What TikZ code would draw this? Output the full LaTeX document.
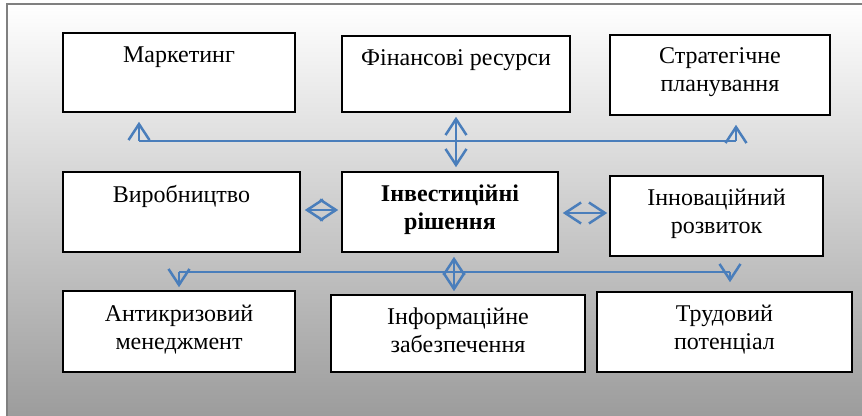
\documentclass[tikz,border=0pt]{standalone}
\usepackage{fontspec}
\setmainfont{Liberation Serif}
\usetikzlibrary{arrows.meta,calc}
\definecolor{linkblue}{RGB}{74,126,187}
\definecolor{panelgray}{RGB}{156,156,156}
\definecolor{framegray}{RGB}{128,128,128}
\begin{document}
\begin{tikzpicture}[x=1pt,y=1pt,
  box/.style={draw=black,line width=1.6pt,fill=white,inner sep=0pt},
  txt/.style={anchor=north,inner sep=0pt,align=center,
    font=\fontsize{24}{28}\selectfont},
  link/.style={draw=linkblue,line width=1.5pt},
  vtip/.tip={Straight Barb[length=16pt,width=21pt,line width=2.5pt]}]
\useasboundingbox (0,0) rectangle (862,415);
% panel
\fill[white] (0,0) rectangle (862,415);
\shade[top color=white,bottom color=panelgray] (7,-2) rectangle (866,411);
\draw[framegray,line width=2pt] (7,-2) -- (7,411) -- (866,411);

% boxes
\node[box,minimum width=232pt,minimum height=79pt] (mark)  at (179,342.5) {};
\node[box,minimum width=228pt,minimum height=76pt] (fin)   at (456,341) {};
\node[box,minimum width=220pt,minimum height=80pt] (strat) at (720,340) {};
\node[box,minimum width=237pt,minimum height=80pt] (vyr)   at (181.5,203) {};
\node[box,minimum width=216pt,minimum height=80pt] (inv)   at (450,203) {};
\node[box,minimum width=213pt,minimum height=80pt] (inn)   at (716.5,199) {};
\node[box,minimum width=232pt,minimum height=81pt] (anti)  at (179,83.5) {};
\node[box,minimum width=254pt,minimum height=77pt] (info)  at (458,81.5) {};
\node[box,minimum width=255pt,minimum height=80pt] (trud)  at (724.5,83) {};

% texts
\node[txt] (mark-t)  at ([yshift=-12pt]mark.north)  {\rule{0pt}{18pt}Маркетинг};
\node[txt] (fin-t)   at ([yshift=-12pt]fin.north)   {\rule{0pt}{18pt}Фінансові ресурси};
\node[txt] (strat-t) at ([yshift=-11pt]strat.north) {\rule{0pt}{18pt}Стратегічне\\планування};
\node[txt] (vyr-t)   at ([yshift=-13pt]vyr.north)   {\rule{0pt}{18pt}Виробництво};
\node[txt,font=\fontsize{24}{28}\selectfont\bfseries] (inv-t) at ([yshift=-12pt]inv.north) {\rule{0pt}{18pt}Інвестиційні\\рішення};
\node[txt] (inn-t)   at ([yshift=-12pt]inn.north)   {\rule{0pt}{18pt}Інноваційний\\розвиток};
\node[txt] (anti-t)  at ([yshift=-13pt]anti.north)  {\rule{0pt}{18pt}Антикризовий\\менеджмент};
\node[txt] (info-t)  at ([yshift=-12pt]info.north)  {\rule{0pt}{18pt}Інформаційне\\забезпечення};
\node[txt] (trud-t)  at ([yshift=-12pt]trud.north)  {\rule{0pt}{18pt}Трудовий\\потенціал};

% upper bus
\coordinate (tl) at (139,274);
\coordinate (tr) at (736,274);
\draw[link] (tl) -- (tr);
\draw[link,-{vtip},shorten >=9pt] (tl) -- (tl |- mark.south);
\draw[link,-{vtip},shorten >=9pt] (tr) -- (tr |- strat.south);
\draw[link,{vtip}-{vtip},shorten <=4pt,shorten >=4pt] (fin.south) -- (fin.south |- inv.north);

% links beside the central box
\draw[link,{vtip}-{vtip},shorten <=4pt,shorten >=3pt] ([yshift=2pt]vyr.east) -- ([yshift=2pt]vyr.east -| inv.west);
\draw[link,{vtip}-{vtip},shorten <=4pt,shorten >=2pt] ([yshift=-1pt]inv.east) -- ([yshift=-1pt]inv.east -| inn.west);

% lower bus
\coordinate (bl) at (179,143);
\coordinate (br) at (730,143);
\draw[link] (bl) -- (br);
\draw[link,-{vtip},shorten >=3pt] (bl) -- (bl |- anti.north);
\draw[link,-{vtip},shorten >=9pt] (br) -- (br |- trud.north);
\draw[link,{vtip}-{vtip},shorten <=4pt,shorten >=3pt] ([xshift=4pt]inv.south) -- ([xshift=-4pt]info.north);
\end{tikzpicture}
\end{document}
